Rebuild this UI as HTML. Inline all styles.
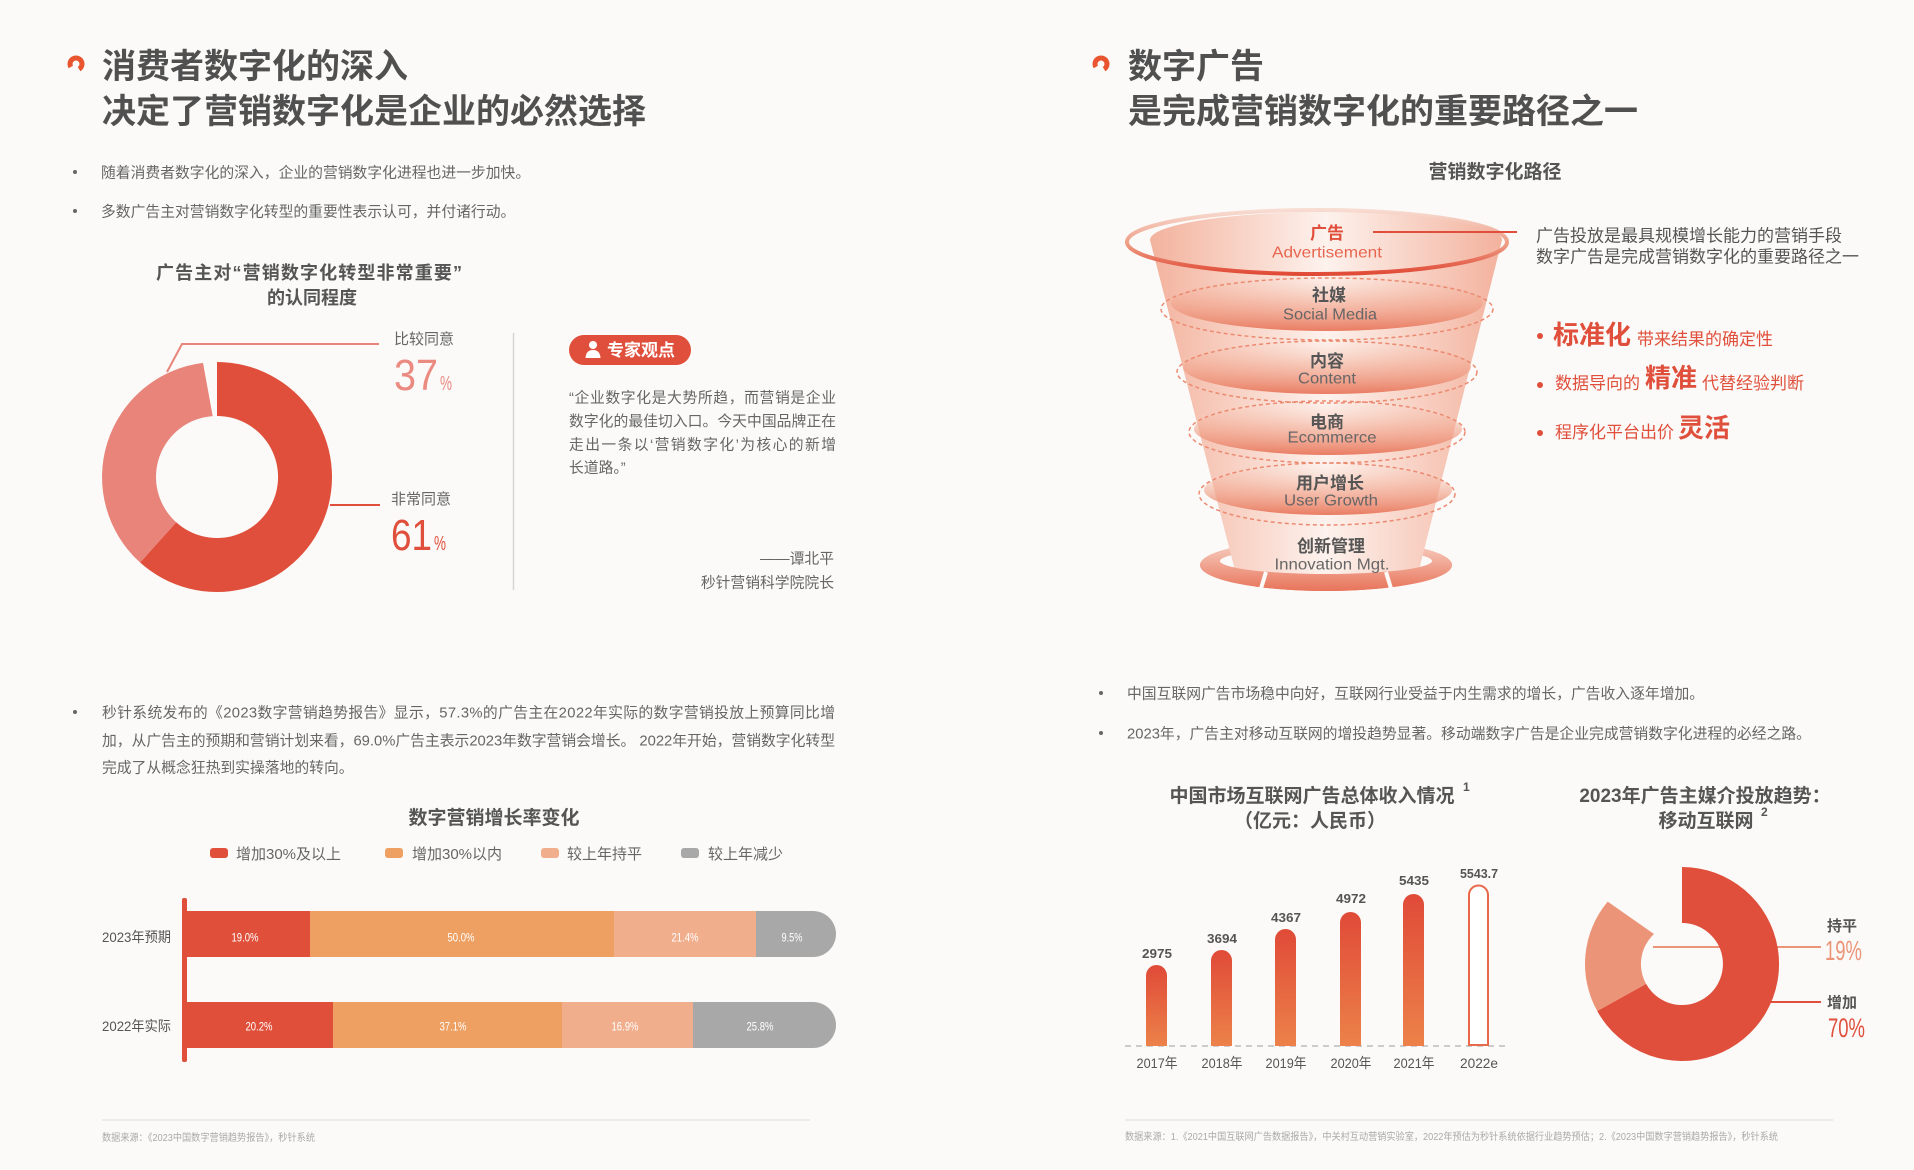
<!DOCTYPE html>
<html><head><meta charset="utf-8">
<style>
html,body{margin:0;padding:0;background:#fbfaf8;}
svg{display:block}
text{font-family:"Liberation Sans","Noto Sans CJK SC",sans-serif;}
.b{font-weight:700}
</style></head>
<body>
<svg width="1914" height="1170" viewBox="0 0 1914 1170" xmlns="http://www.w3.org/2000/svg">
<defs>
  <linearGradient id="barG" x1="0" y1="0" x2="0" y2="1">
    <stop offset="0" stop-color="#e04a38"/>
    <stop offset="1" stop-color="#ec8249"/>
  </linearGradient>
  <linearGradient id="coneH" x1="0" y1="0" x2="1" y2="0">
    <stop offset="0" stop-color="#f3b29d"/>
    <stop offset="0.5" stop-color="#fdf2ed"/>
    <stop offset="1" stop-color="#f3b29d"/>
  </linearGradient>
  <linearGradient id="band" x1="0" y1="0" x2="0" y2="1">
    <stop offset="0" stop-color="#f6c8b8" stop-opacity="0"/>
    <stop offset="0.45" stop-color="#f2a991" stop-opacity="0.55"/>
    <stop offset="1" stop-color="#e8765b" stop-opacity="0.95"/>
  </linearGradient>
  <linearGradient id="ringTop" x1="0" y1="0" x2="0" y2="1">
    <stop offset="0" stop-color="#f8dcd2"/>
    <stop offset="0.55" stop-color="#ee9a82"/>
    <stop offset="1" stop-color="#e04a36"/>
  </linearGradient>
  <linearGradient id="ringBot" x1="0" y1="0" x2="0" y2="1">
    <stop offset="0" stop-color="#f8d6ca"/>
    <stop offset="1" stop-color="#e8745a"/>
  </linearGradient>
  <clipPath id="frontClip"><rect x="1180" y="563" width="300" height="40"/></clipPath>
</defs>

<!-- ================= LEFT PAGE ================= -->
<circle cx="76" cy="64" r="6" fill="none" stroke="#e8552e" stroke-width="5" stroke-dasharray="28 10" transform="rotate(150 76 64)"/>
<text x="102" y="78" font-size="34" class="b" fill="#505050">消费者数字化的深入</text>
<text x="102" y="123" font-size="34" class="b" fill="#505050">决定了营销数字化是企业的必然选择</text>

<circle cx="75" cy="172" r="2" fill="#666"/>
<text x="101" y="177.5" font-size="14.8" fill="#666">随着消费者数字化的深入，企业的营销数字化进程也进一步加快。</text>
<circle cx="75" cy="211" r="2" fill="#666"/>
<text x="101" y="216.5" font-size="14.8" fill="#666">多数广告主对营销数字化转型的重要性表示认可，并付诸行动。</text>

<text x="309" y="279" font-size="18" class="b" fill="#555" text-anchor="middle" textLength="306" lengthAdjust="spacing">广告主对“营销数字化转型非常重要”</text>
<text x="312" y="304" font-size="18" class="b" fill="#555" text-anchor="middle">的认同程度</text>

<!-- left donut -->
<path d="M217,362 A115,115 0 1 1 140.1,562.5 L176.2,522.3 A61,61 0 1 0 217,416 Z" fill="#e04f3b"/>
<path d="M140.1,562.5 A115,115 0 0 1 203.0,362.9 L212.7,416.1 A61,61 0 0 0 176.2,522.3 Z" fill="#e8847a"/>
<polyline points="167,372 182,344 379,344" fill="none" stroke="#e8847a" stroke-width="2"/>
<line x1="330" y1="505" x2="380" y2="505" stroke="#e04f3b" stroke-width="2"/>

<text x="394" y="344" font-size="15" fill="#666">比较同意</text>
<text x="394" y="390" font-size="44" fill="#eb8a80" textLength="44" lengthAdjust="spacingAndGlyphs">37</text>
<text x="440" y="390" font-size="20" fill="#eb8a80" textLength="12" lengthAdjust="spacingAndGlyphs">%</text>
<text x="391" y="504" font-size="15" fill="#666">非常同意</text>
<text x="391" y="550" font-size="44" fill="#e04f3b" textLength="41" lengthAdjust="spacingAndGlyphs">61</text>
<text x="434" y="550" font-size="20" fill="#e04f3b" textLength="12" lengthAdjust="spacingAndGlyphs">%</text>

<line x1="513.5" y1="333" x2="513.5" y2="590" stroke="#d6d6d6" stroke-width="1.5"/>

<!-- expert pill -->
<rect x="569" y="335" width="122" height="30" rx="15" fill="#e04f3b"/>
<circle cx="593" cy="345" r="4" fill="#fff"/>
<path d="M585.5,358 Q586,350 593,350 Q600,350 600.5,358 Z" fill="#fff"/>
<text x="607" y="356" font-size="17" class="b" fill="#fff">专家观点</text>

<text x="569" y="402.5" font-size="14.8" fill="#666" textLength="267" lengthAdjust="spacing">“企业数字化是大势所趋，而营销是企业</text>
<text x="569" y="426" font-size="14.8" fill="#666" textLength="267" lengthAdjust="spacing">数字化的最佳切入口。今天中国品牌正在</text>
<text x="569" y="449.5" font-size="14.8" fill="#666" textLength="267" lengthAdjust="spacing">走出一条以‘营销数字化’为核心的新增</text>
<text x="569" y="472.5" font-size="14.8" fill="#666">长道路。”</text>
<text x="834" y="563.5" font-size="14.8" fill="#666" text-anchor="end">——谭北平</text>
<text x="834" y="587.5" font-size="14.8" fill="#666" text-anchor="end">秒针营销科学院院长</text>

<!-- bullet 3 -->
<circle cx="75" cy="712" r="2" fill="#666"/>
<text x="102" y="717.5" font-size="14.8" fill="#666" textLength="733" lengthAdjust="spacing">秒针系统发布的《2023数字营销趋势报告》显示，57.3%的广告主在2022年实际的数字营销投放上预算同比增</text>
<text x="102" y="745.5" font-size="14.8" fill="#666" textLength="733" lengthAdjust="spacing">加，从广告主的预期和营销计划来看，69.0%广告主表示2023年数字营销会增长。 2022年开始，营销数字化转型</text>
<text x="102" y="772.5" font-size="14.8" fill="#666">完成了从概念狂热到实操落地的转向。</text>

<text x="494" y="824" font-size="19" class="b" fill="#555" text-anchor="middle">数字营销增长率变化</text>

<!-- legend -->
<rect x="210" y="848" width="18" height="10" rx="3" fill="#e04f3a"/>
<text x="236" y="859" font-size="15" fill="#666">增加30%及以上</text>
<rect x="385" y="848" width="18" height="10" rx="3" fill="#eea062"/>
<text x="412" y="859" font-size="15" fill="#666">增加30%以内</text>
<rect x="541" y="848" width="18" height="10" rx="3" fill="#f1ae8c"/>
<text x="567" y="859" font-size="15" fill="#666">较上年持平</text>
<rect x="681" y="848" width="18" height="10" rx="3" fill="#a8a8a8"/>
<text x="708" y="859" font-size="15" fill="#666">较上年减少</text>

<!-- bars -->
<rect x="186" y="911" width="124" height="46" fill="#e04f3a"/>
<rect x="310" y="911" width="304" height="46" fill="#eea062"/>
<rect x="614" y="911" width="142" height="46" fill="#f1ae8c"/>
<path d="M756,911 H813 A23,23 0 0 1 813,957 H756 Z" fill="#a8a8a8"/>

<rect x="186" y="1002" width="147" height="46" fill="#e04f3a"/>
<rect x="333" y="1002" width="229" height="46" fill="#eea062"/>
<rect x="562" y="1002" width="131" height="46" fill="#f1ae8c"/>
<path d="M693,1002 H813 A23,23 0 0 1 813,1048 H693 Z" fill="#a8a8a8"/>

<rect x="182" y="898" width="5" height="164" rx="2" fill="#e04f3a"/>

<g font-size="12" fill="#fff" text-anchor="middle">
<text x="245" y="941.5" textLength="27" lengthAdjust="spacingAndGlyphs">19.0%</text>
<text x="461" y="941.5" textLength="27" lengthAdjust="spacingAndGlyphs">50.0%</text>
<text x="685" y="941.5" textLength="27" lengthAdjust="spacingAndGlyphs">21.4%</text>
<text x="792" y="941.5" textLength="21" lengthAdjust="spacingAndGlyphs">9.5%</text>
<text x="259" y="1030.5" textLength="27" lengthAdjust="spacingAndGlyphs">20.2%</text>
<text x="453" y="1030.5" textLength="27" lengthAdjust="spacingAndGlyphs">37.1%</text>
<text x="625" y="1030.5" textLength="27" lengthAdjust="spacingAndGlyphs">16.9%</text>
<text x="760" y="1030.5" textLength="27" lengthAdjust="spacingAndGlyphs">25.8%</text>
</g>
<text x="102" y="942" font-size="14" fill="#555" textLength="69" lengthAdjust="spacingAndGlyphs">2023年预期</text>
<text x="102" y="1031" font-size="14" fill="#555" textLength="69" lengthAdjust="spacingAndGlyphs">2022年实际</text>

<line x1="102" y1="1120" x2="810" y2="1120" stroke="#e6e6e6" stroke-width="1.5"/>
<text x="102" y="1141" font-size="10" fill="#aaa" textLength="213" lengthAdjust="spacingAndGlyphs">数据来源：《2023中国数字营销趋势报告》，秒针系统</text>

<!-- ================= RIGHT PAGE ================= -->
<circle cx="1101" cy="64" r="6" fill="none" stroke="#e8552e" stroke-width="5" stroke-dasharray="28 10" transform="rotate(150 1101 64)"/>
<text x="1128" y="78" font-size="34" class="b" fill="#505050">数字广告</text>
<text x="1128" y="123" font-size="34" class="b" fill="#505050">是完成营销数字化的重要路径之一</text>

<text x="1495" y="178" font-size="19" class="b" fill="#555" text-anchor="middle">营销数字化路径</text>

<!-- funnel -->
<path d="M1200,565 A126,26 0 1 0 1452,565 A126,26 0 1 0 1200,565 Z M1220,561 A106,13 0 1 0 1432,561 A106,13 0 1 0 1220,561 Z" fill="url(#ringBot)" fill-rule="evenodd"/>
<path d="M1150,240 A176,28 0 0 1 1502,240 L1416,582 L1238,582 Z" fill="url(#coneH)"/>
<ellipse cx="1327" cy="303" rx="156" ry="28" fill="url(#band)"/>
<ellipse cx="1327" cy="367" rx="144" ry="27" fill="url(#band)"/>
<ellipse cx="1328" cy="429" rx="134" ry="26" fill="url(#band)"/>
<ellipse cx="1328" cy="490" rx="124" ry="25" fill="url(#band)"/>
<g fill="none" stroke="#ec8a71" stroke-width="1.5" stroke-dasharray="4 3">
<ellipse cx="1327" cy="309" rx="166" ry="31"/>
<ellipse cx="1327" cy="372" rx="150" ry="31"/>
<ellipse cx="1327" cy="432" rx="138" ry="31"/>
<ellipse cx="1327" cy="494" rx="128" ry="31"/>
</g>
<path d="M1200,565 A126,26 0 1 0 1452,565 A126,26 0 1 0 1200,565 Z M1220,561 A106,13 0 1 0 1432,561 A106,13 0 1 0 1220,561 Z" fill="url(#ringBot)" fill-rule="evenodd" clip-path="url(#frontClip)"/>
<line x1="1266" y1="572" x2="1259" y2="595" stroke="#fbfaf8" stroke-width="4"/>
<line x1="1386" y1="572" x2="1393" y2="595" stroke="#fbfaf8" stroke-width="4"/>
<ellipse cx="1317" cy="242" rx="190" ry="32" fill="none" stroke="url(#ringTop)" stroke-width="4"/>
<line x1="1373" y1="232" x2="1517" y2="232" stroke="#e04f3b" stroke-width="2"/>

<g text-anchor="middle">
<text x="1327" y="239" font-size="17" class="b" fill="#e04f3b">广告</text>
<text x="1327" y="257.5" font-size="16" fill="#e86650" textLength="110" lengthAdjust="spacingAndGlyphs">Advertisement</text>
<text x="1329" y="301" font-size="17" class="b" fill="#555">社媒</text>
<text x="1330" y="319.5" font-size="16" fill="#666" textLength="94" lengthAdjust="spacingAndGlyphs">Social Media</text>
<text x="1327" y="367" font-size="17" class="b" fill="#555">内容</text>
<text x="1327" y="383.5" font-size="16" fill="#666" textLength="58" lengthAdjust="spacingAndGlyphs">Content</text>
<text x="1327" y="428" font-size="17" class="b" fill="#555">电商</text>
<text x="1332" y="442.5" font-size="16" fill="#666" textLength="89" lengthAdjust="spacingAndGlyphs">Ecommerce</text>
<text x="1330" y="489" font-size="17" class="b" fill="#555">用户增长</text>
<text x="1331" y="505.5" font-size="16" fill="#666" textLength="94" lengthAdjust="spacingAndGlyphs">User Growth</text>
<text x="1331" y="552" font-size="17" class="b" fill="#555">创新管理</text>
<text x="1332" y="569.5" font-size="16" fill="#666" textLength="115" lengthAdjust="spacingAndGlyphs">Innovation Mgt.</text>
</g>

<text x="1536" y="241.5" font-size="17" fill="#555">广告投放是最具规模增长能力的营销手段</text>
<text x="1536" y="262.5" font-size="17" fill="#555">数字广告是完成营销数字化的重要路径之一</text>

<circle cx="1540" cy="336" r="3" fill="#e04f3b"/>
<text x="1553" y="344" font-size="26" class="b" fill="#e04f3b">标准化</text>
<text x="1637" y="345" font-size="17" fill="#e04f3b">带来结果的确定性</text>
<circle cx="1540" cy="385" r="3" fill="#e04f3b"/>
<text x="1555" y="389" font-size="17" fill="#e04f3b">数据导向的</text>
<text x="1645" y="387" font-size="26" class="b" fill="#e04f3b">精准</text>
<text x="1702" y="389" font-size="17" fill="#e04f3b">代替经验判断</text>
<circle cx="1540" cy="433" r="3" fill="#e04f3b"/>
<text x="1555" y="438" font-size="17" fill="#e04f3b">程序化平台出价</text>
<text x="1678" y="437" font-size="26" class="b" fill="#e04f3b">灵活</text>

<circle cx="1101" cy="693" r="2" fill="#666"/>
<text x="1127" y="698.5" font-size="14.8" fill="#666">中国互联网广告市场稳中向好，互联网行业受益于内生需求的增长，广告收入逐年增加。</text>
<circle cx="1101" cy="733" r="2" fill="#666"/>
<text x="1127" y="738.5" font-size="14.8" fill="#666">2023年，广告主对移动互联网的增投趋势显著。移动端数字广告是企业完成营销数字化进程的必经之路。</text>

<text x="1312" y="802" font-size="19" class="b" fill="#555" text-anchor="middle">中国市场互联网广告总体收入情况</text>
<text x="1463" y="791" font-size="12" class="b" fill="#555">1</text>
<text x="1310" y="827" font-size="19" class="b" fill="#555" text-anchor="middle">（亿元：人民币）</text>

<text x="1705" y="802" font-size="19" class="b" fill="#555" text-anchor="middle">2023年广告主媒介投放趋势：</text>
<text x="1706" y="827" font-size="19" class="b" fill="#555" text-anchor="middle">移动互联网</text>
<text x="1761" y="816" font-size="12" class="b" fill="#555">2</text>

<line x1="1125" y1="1046" x2="1510" y2="1046" stroke="#bdbdbd" stroke-width="1.5" stroke-dasharray="6 5"/>
<path d="M1146,1046 V975.5 A10.5,10.5 0 0 1 1167,975.5 V1046 Z" fill="url(#barG)"/>
<path d="M1211,1046 V960.5 A10.5,10.5 0 0 1 1232,960.5 V1046 Z" fill="url(#barG)"/>
<path d="M1275,1046 V939.5 A10.5,10.5 0 0 1 1296,939.5 V1046 Z" fill="url(#barG)"/>
<path d="M1340,1046 V922.5 A10.5,10.5 0 0 1 1361,922.5 V1046 Z" fill="url(#barG)"/>
<path d="M1403,1046 V904.5 A10.5,10.5 0 0 1 1424,904.5 V1046 Z" fill="url(#barG)"/>
<path d="M1469,1045 V895 A9.5,9.5 0 0 1 1488,895 V1045 Z" fill="#fff" stroke="#e8694a" stroke-width="2"/>

<g font-size="13" class="b" fill="#555" text-anchor="middle">
<text x="1157" y="958" textLength="30" lengthAdjust="spacingAndGlyphs">2975</text>
<text x="1222" y="943" textLength="30" lengthAdjust="spacingAndGlyphs">3694</text>
<text x="1286" y="922" textLength="30" lengthAdjust="spacingAndGlyphs">4367</text>
<text x="1351" y="903" textLength="30" lengthAdjust="spacingAndGlyphs">4972</text>
<text x="1414" y="885" textLength="30" lengthAdjust="spacingAndGlyphs">5435</text>
<text x="1479" y="878" textLength="38" lengthAdjust="spacingAndGlyphs">5543.7</text>
</g>
<g font-size="14" fill="#555" text-anchor="middle">
<text x="1157" y="1068" textLength="41" lengthAdjust="spacingAndGlyphs">2017年</text>
<text x="1222" y="1068" textLength="41" lengthAdjust="spacingAndGlyphs">2018年</text>
<text x="1286" y="1068" textLength="41" lengthAdjust="spacingAndGlyphs">2019年</text>
<text x="1351" y="1068" textLength="41" lengthAdjust="spacingAndGlyphs">2020年</text>
<text x="1414" y="1068" textLength="41" lengthAdjust="spacingAndGlyphs">2021年</text>
<text x="1479" y="1068" textLength="38" lengthAdjust="spacingAndGlyphs">2022e</text>
</g>

<!-- right donut: leader lines first so donut covers them -->
<line x1="1653" y1="947" x2="1821" y2="947" stroke="#eb9478" stroke-width="2"/>
<line x1="1760" y1="1002" x2="1821" y2="1002" stroke="#e04f3b" stroke-width="2"/>
<path d="M1682,867 A97,97 0 1 1 1597.2,1011.0 L1646.1,983.9 A41,41 0 1 0 1682,923 Z" fill="#e04f3b"/>
<path d="M1597.2,1011.0 A97,97 0 0 1 1607.7,901.6 L1654,934 A41,41 0 0 0 1646.1,983.9 Z" fill="#eb9478"/>
<text x="1827" y="931" font-size="15" class="b" fill="#555">持平</text>
<text x="1825" y="960" font-size="28" fill="#eb9478" textLength="37" lengthAdjust="spacingAndGlyphs">19%</text>
<text x="1827" y="1007.5" font-size="15" class="b" fill="#555">增加</text>
<text x="1828" y="1037" font-size="27" fill="#e04f3b" textLength="37" lengthAdjust="spacingAndGlyphs">70%</text>

<line x1="1125" y1="1120" x2="1833" y2="1120" stroke="#e6e6e6" stroke-width="1.5"/>
<text x="1125" y="1140" font-size="10" fill="#aaa" textLength="653" lengthAdjust="spacingAndGlyphs">数据来源：1.《2021中国互联网广告数据报告》，中关村互动营销实验室，2022年预估为秒针系统依据行业趋势预估；2.《2023中国数字营销趋势报告》，秒针系统</text>
</svg>
</body></html>
